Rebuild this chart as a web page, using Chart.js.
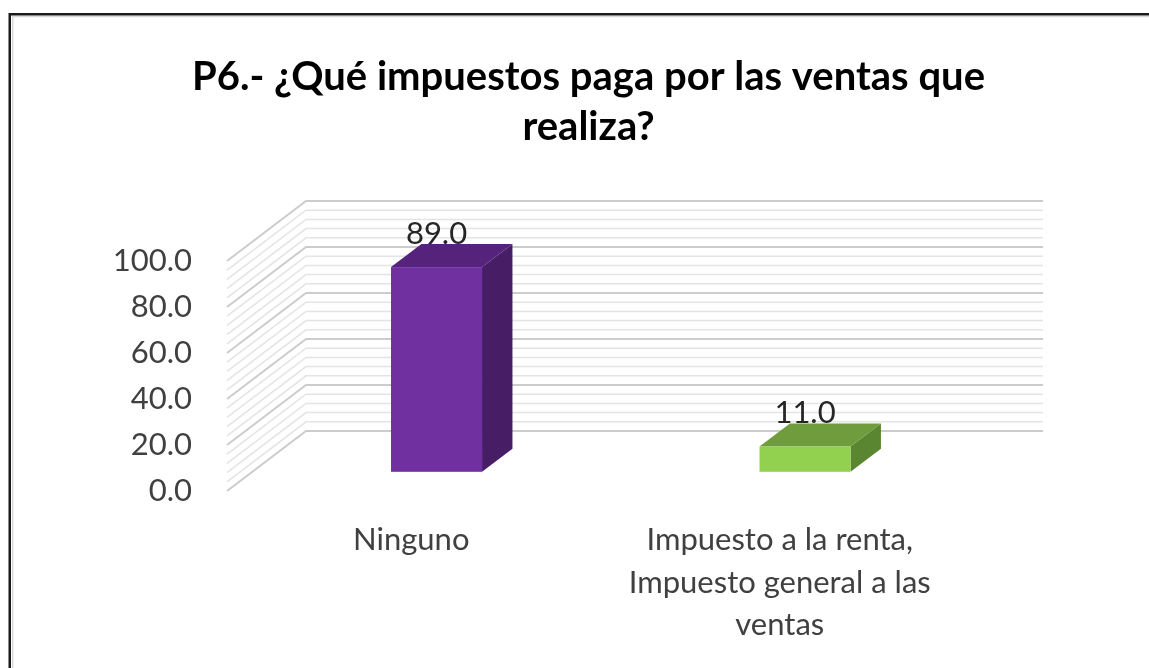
<!DOCTYPE html>
<html lang="es">
<head>
<meta charset="UTF-8">
<title>P6 - Impuestos por ventas</title>
<script src="https://cdn.jsdelivr.net/npm/chart.js"></script>
<style>
    html, body { margin: 0; padding: 0; background: #fff; overflow: hidden; }
    #grafico { display: block; }
</style>
</head>
<body>
<canvas id="grafico" width="1149" height="668"></canvas>
<script>
    // datos
    const categorias = ['Ninguno', ['Impuesto a la renta,', 'Impuesto general a las', 'ventas']];
    const porcentajes = [89.0, 11.0];
    const marcasY = [0, 20, 40, 60, 80, 100];

    const coloresFrente = ['#7030a0', '#92d050'];
    const coloresTecho = ['#56237c', '#6f9c3c'];
    const coloresLado = ['#471d66', '#5b8631'];

    const fuente = 'Lato, "Open Sans", sans-serif';
    const PROF = {x: 79, y: -60};   // fondo de la caja 3D
    const INI_BARRA = 0.32;          // donde empieza la barra en la profundidad
    const FONDO_BARRA = 0.385;       // grosor de la barra

    function poligono(ctx, pts) {
        ctx.beginPath();
        ctx.moveTo(pts[0][0], pts[0][1]);
        for (let i = 1; i < pts.length; i++) ctx.lineTo(pts[i][0], pts[i][1]);
        ctx.closePath();
        ctx.fill();
    }

    const efecto3D = {
        id: 'efecto3D',
        beforeDraw(chart) {
            const ctx = chart.ctx;
            ctx.save();
            ctx.fillStyle = '#fff';
            ctx.fillRect(0, 0, chart.width, chart.height);
            // marco del grafico
            ctx.strokeStyle = '#d9d9d9';
            ctx.lineWidth = 1.5;
            ctx.beginPath();
            ctx.moveTo(12.75, chart.height);
            ctx.lineTo(12.75, 16.5);
            ctx.lineTo(chart.width, 16.5);
            ctx.stroke();
            ctx.strokeStyle = '#1a1a1a';
            ctx.lineWidth = 2.5;
            ctx.beginPath();
            ctx.moveTo(9.75, chart.height);
            ctx.lineTo(9.75, 14.25);
            ctx.lineTo(chart.width, 14.25);
            ctx.stroke();
            ctx.restore();
        },
        beforeDatasetsDraw(chart) {
            const {ctx, chartArea, scales: {y}} = chart;
            ctx.save();
            // pared lateral y pared del fondo
            for (let v = y.min; v <= y.max; v += 4) {
                const py = y.getPixelForValue(v);
                const mayor = marcasY.includes(v);
                ctx.strokeStyle = mayor ? '#cccccc' : '#e4e4e4';
                ctx.lineWidth = mayor ? 2 : 1.5;
                ctx.beginPath();
                ctx.moveTo(chartArea.left, py);
                ctx.lineTo(chartArea.left + PROF.x, py + PROF.y);
                ctx.lineTo(chartArea.right + PROF.x, py + PROF.y);
                ctx.stroke();
            }
            ctx.restore();
        },
        afterDatasetsDraw(chart) {
            const ctx = chart.ctx;
            const meta = chart.getDatasetMeta(0);
            ctx.save();
            meta.data.forEach((barra, i) => {
                const {x, y, base, width} = barra.getProps(['x', 'y', 'base', 'width'], true);
                const dx = PROF.x * INI_BARRA, dy = PROF.y * INI_BARRA;
                const px = PROF.x * FONDO_BARRA, py = PROF.y * FONDO_BARRA;
                const x0 = x - width / 2 + dx, x1 = x + width / 2 + dx;
                const y0 = y + dy, y1 = base + dy;

                ctx.fillStyle = coloresLado[i];
                poligono(ctx, [[x1, y0], [x1 + px, y0 + py], [x1 + px, y1 + py], [x1, y1]]);
                ctx.fillStyle = coloresTecho[i];
                poligono(ctx, [[x0, y0], [x0 + px, y0 + py], [x1 + px, y0 + py], [x1, y0]]);
                ctx.fillStyle = coloresFrente[i];
                ctx.fillRect(x0, y0, x1 - x0, y1 - y0);

                ctx.fillStyle = '#262626';
                ctx.font = '31px ' + fuente;
                ctx.textAlign = 'center';
                ctx.textBaseline = 'alphabetic';
                ctx.fillText(porcentajes[i].toFixed(1), (x0 + x1) / 2, y0 + py);
            });
            ctx.restore();
        }
    };

    new Chart(document.getElementById('grafico'), {
        type: 'bar',
        data: {
            labels: categorias,
            datasets: [{
                label: 'P6',
                data: porcentajes,
                yAxisID: 'y',
                backgroundColor: 'rgba(0,0,0,0)',
                borderWidth: 0,
                categoryPercentage: 1,
                barPercentage: 0.247
            }]
        },
        options: {
            responsive: false,
            animation: false,
            layout: { padding: { left: 28, top: 0, right: 0, bottom: 0 } },
            plugins: {
                legend: { display: false },
                tooltip: { enabled: false },
                title: {
                    display: true,
                    text: ['P6.- ¿Qué impuestos paga por las ventas que', 'realiza?'],
                    color: '#000',
                    font: { family: fuente, size: 40, weight: 'bold', lineHeight: 1.25 },
                    padding: { top: 52, bottom: 109 }
                }
            },
            scales: {
                y: {
                    min: 0,
                    max: 100,
                    afterFit(s) { s.width = 199; },
                    afterBuildTicks(s) { s.ticks = marcasY.map(v => ({value: v})); },
                    grid: { display: false },
                    border: { display: false },
                    ticks: {
                        padding: 27,
                        color: '#404040',
                        font: { family: fuente, size: 31 },
                        callback: v => Number(v).toFixed(1)
                    }
                },
                x: {
                    afterFit(s) { s.height = 177; },
                    grid: { display: false },
                    border: { display: false },
                    ticks: {
                        padding: 20,
                        maxRotation: 0,
                        autoSkip: false,
                        color: '#404040',
                        font: { family: fuente, size: 31, lineHeight: 1.37 }
                    }
                },
                yDer: {
                    position: 'right',
                    afterFit(s) { s.width = 185; },
                    grid: { display: false },
                    border: { display: false },
                    ticks: { display: false }
                }
            }
        },
        plugins: [efecto3D]
    });
</script>
</body>
</html>
